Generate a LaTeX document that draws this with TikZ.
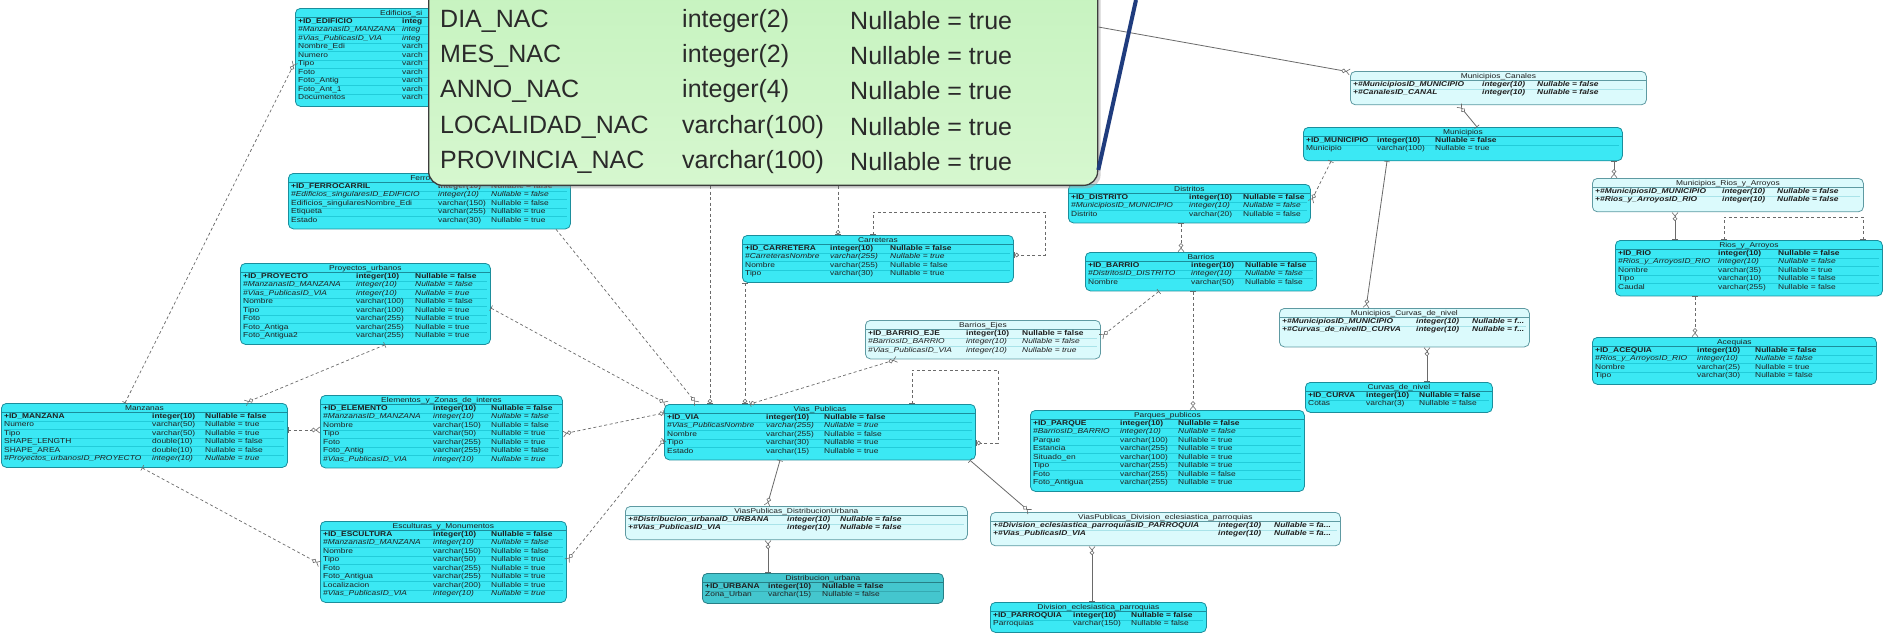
\documentclass[tikz,border=0pt]{standalone}
\usepackage{fontspec}
\setmainfont{Liberation Sans}
\newfontfamily\tabff[FakeStretch=1.2]{Liberation Sans}
\usepackage{array}
\usepackage{colortbl}
\usetikzlibrary{arrows.meta,shadows}
\definecolor{cyfill}{HTML}{3BE8F4}
\definecolor{cyline}{HTML}{1B8E9C}
\definecolor{ltfill}{HTML}{DBFAFC}
\definecolor{ltline}{HTML}{5E9AA2}
\definecolor{dkfill}{HTML}{44C6CE}
\definecolor{dkline}{HTML}{277F86}
\definecolor{rscy}{HTML}{22CCDA}
\definecolor{rslt}{HTML}{A9E3E9}
\definecolor{rsdk}{HTML}{35AAB2}
\definecolor{txt}{HTML}{1E1E1E}
\definecolor{conn}{HTML}{6A6A6A}
\definecolor{popA}{HTML}{C4F2BD}
\definecolor{popB}{HTML}{D6F7CF}
\definecolor{popline}{HTML}{3C3C3C}
\definecolor{poptxt}{HTML}{2A2A2A}
\definecolor{blueline}{HTML}{1F3C7E}
\setlength\arrayrulewidth{0.5pt}
\setlength\tabcolsep{0pt}
\newcommand\tabfont{\tabff\fontsize{7}{8}\selectfont\color{txt}}
\newcommand\rb[3]{\textbf{#1}&\textbf{#2}&\textbf{#3}}
\newcommand\ri[3]{\textit{#1}&\textit{#2}&\textit{#3}}
\newcommand\rn[3]{#1&#2&#3}
\newcommand\rx[3]{\textbf{\textit{#1}}&\textbf{\textit{#2}}&\textbf{\textit{#3}}}
\newcommand\RR{\\\hline}
\tikzset{
 tbcy/.style={draw=cyline,fill=cyfill,rounded corners=5pt,line width=0.8pt,inner sep=0pt},
 tblt/.style={draw=ltline,fill=ltfill,rounded corners=5pt,line width=0.8pt,inner sep=0pt},
 tbdk/.style={draw=dkline,fill=dkfill,rounded corners=5pt,line width=0.8pt,inner sep=0pt},
 sepcy/.style={draw=cyline,line width=0.6pt},
 seplt/.style={draw=ltline,line width=0.6pt},
 sepdk/.style={draw=dkline,line width=0.6pt},
 dsh/.style={draw=conn,line width=0.7pt,dash pattern=on 3pt off 2.5pt},
 sol/.style={draw=conn,line width=0.8pt},
 Mny/.tip={Circle[fill=white,length=4.5pt,width=4.5pt,line width=0.6pt] Straight Barb[reversed,length=3.5pt,width=6pt,line width=0.6pt]},
 One/.tip={Bar[width=6pt,line width=0.6pt]},
 ZO/.tip={Circle[fill=white,length=4.5pt,width=4.5pt,line width=0.6pt] Bar[width=6pt,line width=0.6pt]},
 ptx/.style={font=\fontsize{25}{28}\selectfont\color{poptxt}, anchor=west, inner sep=0pt},
}
\newcommand{\ert}[9]{%
  \node[tb#6, minimum width=#4pt, minimum height={13pt+8.5pt*#5}, anchor=north west] (#1) at (#2,#3) {};
  \node[font=\tabfont, anchor=base, inner sep=0pt] (#1-t) at ([yshift=-7.2pt]#1.north) {#7};
  \draw[sep#6] ([yshift=-9pt]#1.north west) -- ([yshift=-9pt]#1.north east);
  \def\ertN{#1}\def\ertW{#4}\def\ertA{#8}\def\ertB{#9}\def\ertS{#6}%
  \ertrest}
\newcommand{\ertrest}[1]{%
  \node[anchor=north west, inner sep=0pt, font=\tabfont] (\ertN-r) at ([xshift=3pt,yshift=-9.3pt]\ertN.north west)
   {\arrayrulecolor{rs\ertS}\begin{tabular}{@{}w{l}{\ertA pt}w{l}{\ertB pt}w{l}{\dimexpr\ertW pt-\ertA pt-\ertB pt-6pt\relax}@{}}#1\end{tabular}};}
\begin{document}
\begin{tikzpicture}[x=1pt,y=-1pt]
\useasboundingbox (0,0) rectangle (1883,635);
\fill[white] (0,0) rectangle (1883,635);

% ---------------- tables ----------------
\ert{edif}{295}{8}{243}{10}{cy}{}{104}{30}{
\rb{+ID\_EDIFICIO}{integ}{}\RR
\ri{\#ManzanasID\_MANZANA}{integ}{}\RR
\ri{\#Vias\_PublicasID\_VIA}{integ}{}\RR
\rn{Nombre\_Edi}{varch}{}\RR
\rn{Numero}{varch}{}\RR
\rn{Tipo}{varch}{}\RR
\rn{Foto}{varch}{}\RR
\rn{Foto\_Antig}{varch}{}\RR
\rn{Foto\_Ant\_1}{varch}{}\RR
\rn{Documentos}{varch}{}}
\node[font=\tabfont, anchor=base west, inner sep=0pt] (edif-tt) at ([yshift=-7.2pt]edif.north west -| 380,0) {Edificios\_si};

\ert{ferro}{288}{173}{282}{5}{cy}{Ferrocarril}{147}{53}{
\rb{+ID\_FERROCARRIL}{integer(10)}{Nullable = false}\RR
\ri{\#Edificios\_singularesID\_EDIFICIO}{integer(10)}{Nullable = false}\RR
\rn{Edificios\_singularesNombre\_Edi}{varchar(150)}{Nullable = false}\RR
\rn{Etiqueta}{varchar(255)}{Nullable = true}\RR
\rn{Estado}{varchar(30)}{Nullable = true}}

\ert{proy}{240}{263}{250}{8}{cy}{Proyectos\_urbanos}{113}{59}{
\rb{+ID\_PROYECTO}{integer(10)}{Nullable = false}\RR
\ri{\#ManzanasID\_MANZANA}{integer(10)}{Nullable = false}\RR
\ri{\#Vias\_PublicasID\_VIA}{integer(10)}{Nullable = true}\RR
\rn{Nombre}{varchar(100)}{Nullable = false}\RR
\rn{Tipo}{varchar(100)}{Nullable = true}\RR
\rn{Foto}{varchar(255)}{Nullable = true}\RR
\rn{Foto\_Antiga}{varchar(255)}{Nullable = true}\RR
\rn{Foto\_Antigua2}{varchar(255)}{Nullable = true}}

\ert{manz}{1}{403}{286}{6}{cy}{Manzanas}{148}{53}{
\rb{+ID\_MANZANA}{integer(10)}{Nullable = false}\RR
\rn{Numero}{varchar(50)}{Nullable = true}\RR
\rn{Tipo}{varchar(50)}{Nullable = true}\RR
\rn{SHAPE\_LENGTH}{double(10)}{Nullable = false}\RR
\rn{SHAPE\_AREA}{double(10)}{Nullable = false}\RR
\ri{\#Proyectos\_urbanosID\_PROYECTO}{integer(10)}{Nullable = true}}

\ert{elem}{320}{395}{242}{7}{cy}{Elementos\_y\_Zonas\_de\_interes}{110}{58}{
\rb{+ID\_ELEMENTO}{integer(10)}{Nullable = false}\RR
\ri{\#ManzanasID\_MANZANA}{integer(10)}{Nullable = false}\RR
\rn{Nombre}{varchar(150)}{Nullable = false}\RR
\rn{Tipo}{varchar(50)}{Nullable = true}\RR
\rn{Foto}{varchar(255)}{Nullable = true}\RR
\rn{Foto\_Antig}{varchar(255)}{Nullable = false}\RR
\ri{\#Vias\_PublicasID\_VIA}{integer(10)}{Nullable = true}}

\ert{escu}{320}{521}{246}{8}{cy}{Esculturas\_y\_Monumentos}{110}{58}{
\rb{+ID\_ESCULTURA}{integer(10)}{Nullable = false}\RR
\ri{\#ManzanasID\_MANZANA}{integer(10)}{Nullable = false}\RR
\rn{Nombre}{varchar(150)}{Nullable = false}\RR
\rn{Tipo}{varchar(50)}{Nullable = true}\RR
\rn{Foto}{varchar(255)}{Nullable = true}\RR
\rn{Foto\_Antigua}{varchar(255)}{Nullable = true}\RR
\rn{Localizacion}{varchar(200)}{Nullable = true}\RR
\ri{\#Vias\_PublicasID\_VIA}{integer(10)}{Nullable = true}}

\ert{vias}{664}{404}{311}{5}{cy}{Vias\_Publicas}{99}{58}{
\rb{+ID\_VIA}{integer(10)}{Nullable = false}\RR
\ri{\#Vias\_PublicasNombre}{varchar(255)}{Nullable = true}\RR
\rn{Nombre}{varchar(255)}{Nullable = false}\RR
\rn{Tipo}{varchar(30)}{Nullable = true}\RR
\rn{Estado}{varchar(15)}{Nullable = true}}

\ert{bej}{865}{320}{235}{3}{lt}{Barrios\_Ejes}{98}{56}{
\rb{+ID\_BARRIO\_EJE}{integer(10)}{Nullable = false}\RR
\ri{\#BarriosID\_BARRIO}{integer(10)}{Nullable = false}\RR
\ri{\#Vias\_PublicasID\_VIA}{integer(10)}{Nullable = true}}

\ert{carr}{742}{235}{271}{4}{cy}{Carreteras}{85}{60}{
\rb{+ID\_CARRETERA}{integer(10)}{Nullable = false}\RR
\ri{\#CarreterasNombre}{varchar(255)}{Nullable = true}\RR
\rn{Nombre}{varchar(255)}{Nullable = false}\RR
\rn{Tipo}{varchar(30)}{Nullable = true}}

\ert{dist}{1068}{184}{242}{3}{cy}{Distritos}{118}{54}{
\rb{+ID\_DISTRITO}{integer(10)}{Nullable = false}\RR
\ri{\#MunicipiosID\_MUNICIPIO}{integer(10)}{Nullable = false}\RR
\rn{Distrito}{varchar(20)}{Nullable = false}}

\ert{barr}{1085}{252}{231}{3}{cy}{Barrios}{103}{54}{
\rb{+ID\_BARRIO}{integer(10)}{Nullable = false}\RR
\ri{\#DistritosID\_DISTRITO}{integer(10)}{Nullable = false}\RR
\rn{Nombre}{varchar(50)}{Nullable = false}}

\ert{mcan}{1350}{71}{296}{2.4}{lt}{Municipios\_Canales}{129}{55}{
\rx{+\#MunicipiosID\_MUNICIPIO}{integer(10)}{Nullable = false}\RR
\rx{+\#CanalesID\_CANAL}{integer(10)}{Nullable = false}}

\ert{muni}{1303}{127}{319}{2.4}{cy}{Municipios}{71}{58}{
\rb{+ID\_MUNICIPIO}{integer(10)}{Nullable = false}\RR
\rn{Municipio}{varchar(100)}{Nullable = true}}

\ert{mrios}{1592}{178}{271}{2.4}{lt}{Municipios\_Rios\_y\_Arroyos}{127}{55}{
\rx{+\#MunicipiosID\_MUNICIPIO}{integer(10)}{Nullable = false}\RR
\rx{+\#Rios\_y\_ArroyosID\_RIO}{integer(10)}{Nullable = false}}

\ert{rios}{1615}{240}{267}{5}{cy}{Rios\_y\_Arroyos}{100}{60}{
\rb{+ID\_RIO}{integer(10)}{Nullable = false}\RR
\ri{\#Rios\_y\_ArroyosID\_RIO}{integer(10)}{Nullable = false}\RR
\rn{Nombre}{varchar(35)}{Nullable = true}\RR
\rn{Tipo}{varchar(10)}{Nullable = false}\RR
\rn{Caudal}{varchar(255)}{Nullable = false}}

\ert{aceq}{1592}{337}{284}{4}{cy}{Acequias}{102}{58}{
\rb{+ID\_ACEQUIA}{integer(10)}{Nullable = false}\RR
\ri{\#Rios\_y\_ArroyosID\_RIO}{integer(10)}{Nullable = false}\RR
\rn{Nombre}{varchar(25)}{Nullable = true}\RR
\rn{Tipo}{varchar(30)}{Nullable = false}}

\ert{mcur}{1279}{308}{250}{3}{lt}{Municipios\_Curvas\_de\_nivel}{134}{56}{
\rx{+\#MunicipiosID\_MUNICIPIO}{integer(10)}{Nullable = f...}\RR
\rx{+\#Curvas\_de\_nivelID\_CURVA}{integer(10)}{Nullable = f...}}

\ert{curv}{1305}{382}{187}{2}{cy}{Curvas\_de\_nivel}{58}{53}{
\rb{+ID\_CURVA}{integer(10)}{Nullable = false}\RR
\rn{Cotas}{varchar(3)}{Nullable = false}}

\ert{parq}{1030}{410}{274}{8}{cy}{Parques\_publicos}{87}{58}{
\rb{+ID\_PARQUE}{integer(10)}{Nullable = false}\RR
\ri{\#BarriosID\_BARRIO}{integer(10)}{Nullable = false}\RR
\rn{Parque}{varchar(100)}{Nullable = true}\RR
\rn{Estancia}{varchar(255)}{Nullable = true}\RR
\rn{Situado\_en}{varchar(100)}{Nullable = true}\RR
\rn{Tipo}{varchar(255)}{Nullable = true}\RR
\rn{Foto}{varchar(255)}{Nullable = false}\RR
\rn{Foto\_Antigua}{varchar(255)}{Nullable = true}}

\ert{vpdu}{625}{506}{342}{2.4}{lt}{ViasPublicas\_DistribucionUrbana}{159}{53}{
\rx{+\#Distribucion\_urbanaID\_URBANA}{integer(10)}{Nullable = false}\RR
\rx{+\#Vias\_PublicasID\_VIA}{integer(10)}{Nullable = false}}

\ert{durb}{702}{573}{241}{2}{dk}{Distribucion\_urbana}{63}{54}{
\rb{+ID\_URBANA}{integer(10)}{Nullable = false}\RR
\rn{Zona\_Urban}{varchar(15)}{Nullable = false}}

\ert{vpdiv}{990}{512}{350}{2.4}{lt}{ViasPublicas\_Division\_eclesiastica\_parroquias}{225}{56}{
\rx{+\#Division\_eclesiastica\_parroquiasID\_PARROQUIA}{integer(10)}{Nullable = fa...}\RR
\rx{+\#Vias\_PublicasID\_VIA}{integer(10)}{Nullable = fa...}}

\ert{div}{990}{602}{216}{2}{cy}{Division\_eclesiastica\_parroquias}{80}{58}{
\rb{+ID\_PARROQUIA}{integer(10)}{Nullable = false}\RR
\rn{Parroquias}{varchar(150)}{Nullable = false}}

% ---------------- popup ----------------
\node[draw=popline, line width=1.3pt, rounded corners=14pt, top color=popA, bottom color=popB,
      drop shadow={shadow xshift=3pt,shadow yshift=-3pt,fill=black!35},
      minimum width=669pt, minimum height=230pt, anchor=south west, inner sep=0pt] (popup) at (428,186) {};
\node[ptx] (pn1) at (440,21) {DIA\_NAC};
\node[ptx] (pt1) at (682,21) {integer(2)};
\node[ptx] (pu1) at (850,21) {Nullable = true};
\node[ptx] (pn2) at (440,56) {MES\_NAC};
\node[ptx] (pt2) at (682,56) {integer(2)};
\node[ptx] (pu2) at (850,56) {Nullable = true};
\node[ptx] (pn3) at (440,91) {ANNO\_NAC};
\node[ptx] (pt3) at (682,91) {integer(4)};
\node[ptx] (pu3) at (850,91) {Nullable = true};
\node[ptx] (pn4) at (440,127) {LOCALIDAD\_NAC};
\node[ptx] (pt4) at (682,127) {varchar(100)};
\node[ptx] (pu4) at (850,127) {Nullable = true};
\node[ptx] (pn5) at (440,162) {PROVINCIA\_NAC};
\node[ptx] (pt5) at (682,162) {varchar(100)};
\node[ptx] (pu5) at (850,162) {Nullable = true};

% ---------------- connectors ----------------
\draw[dsh, Mny-One] (edif.west |- 0,62) -- (125,0 |- manz.north);
\draw[dsh, One-Mny] (385,0 |- proy.south) -- (245,0 |- manz.north);
\draw[dsh, One-Mny] (manz.east |- 0,430) -- (elem.west |- 0,430);
\draw[dsh, One-Mny] (142,0 |- manz.south) -- (escu.west |- 0,564);
\draw[dsh, Mny-ZO] (elem.east |- 0,434) -- (vias.west |- 0,413);
\draw[dsh, Mny-ZO] (escu.east |- 0,561) -- (vias.west |- 0,440);
\draw[dsh, One-Mny] (proy.east |- 0,308) -- (667,0 |- vias.north);
\draw[dsh, -Mny] (556,0 |- ferro.south) -- (697,0 |- vias.north);
\draw[dsh, -ZO] (710,0 |- popup.south) -- (710,0 |- vias.north);
\draw[dsh, One-ZO] (745,0 |- carr.south) -- (745,0 |- vias.north);
\draw[dsh, Mny-ZO] (897,0 |- bej.south) -- (750,0 |- vias.north);
\draw[dsh, One-ZO] (912,0 |- vias.north) -- (912,370) -| (998,443) -- (vias.east |- 0,443);
\draw[dsh, -ZO] (838,0 |- popup.south) -- (838,0 |- carr.north);
\draw[dsh, One-ZO] (873,0 |- carr.north) -- (873,212) -| (1045,255) -- (carr.east |- 0,255);
\draw[dsh, One-Mny] (1331,0 |- muni.south) -- (dist.east |- 0,202);
\draw[sol, One-Mny] (1387,0 |- muni.south) -- (1366,0 |- mcur.north);
\draw[sol, Mny-One] (1427,0 |- mcur.south) -- (1427,0 |- curv.north);
\draw[sol, Mny-One] (1459,0 |- mcan.south) -- (1477,0 |- muni.north);
\draw[sol, One-Mny] (1614,0 |- muni.south) -- (1614,0 |- mrios.north);
\draw[sol, Mny-One] (1675,0 |- mrios.south) -- (1675,0 |- rios.north);
\draw[dsh, One-One] (1724,0 |- rios.north) -- (1724,217) -| (1863,0 |- rios.north);
\draw[dsh, One-Mny] (1695,0 |- rios.south) -- (1695,0 |- aceq.north);
\draw[dsh, One-Mny] (1181,0 |- dist.south) -- (1181,0 |- barr.north);
\draw[dsh, One-Mny] (1159,0 |- barr.south) -- (bej.east |- 0,337);
\draw[dsh, One-Mny] (1193,0 |- barr.south) -- (1193,0 |- parq.north);
\draw[sol, One-Mny] (780,0 |- vias.south) -- (767,0 |- vpdu.north);
\draw[sol, Mny-One] (768,0 |- vpdu.south) -- (768,0 |- durb.north);
\draw[sol, One-Mny] (970,0 |- vias.south) -- (1030,0 |- vpdiv.north);
\draw[sol, Mny-One] (1092,0 |- vpdiv.south) -- (1092,0 |- div.north);
\draw[sol, -Mny] (popup.east |- 0,27) -- (mcan.west |- 0,72);
\coordinate (bltop) at (1136,0);
\draw[blueline, line width=4pt] (bltop) -- (popup.east |- 0,170);
\end{tikzpicture}
\end{document}
